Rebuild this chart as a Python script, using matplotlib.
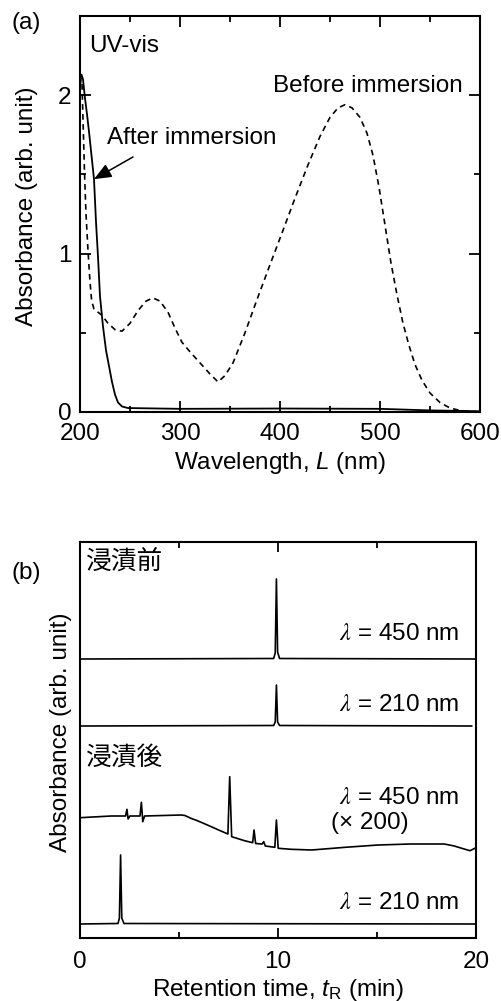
import matplotlib
matplotlib.use("Agg")
import matplotlib.pyplot as plt
from matplotlib.ticker import MultipleLocator

# ── Fonts ──
plt.rcParams['font.family'] = ['Liberation Sans', 'Noto Sans CJK JP']
plt.rcParams['font.size'] = 17.5
plt.rcParams['mathtext.fontset'] = 'custom'
plt.rcParams['mathtext.rm'] = 'Liberation Sans'
plt.rcParams['mathtext.it'] = 'Liberation Sans:italic'

# ── (a) UV-vis spectra ──
wl_before = [202, 203, 204.5, 206, 208, 210, 211.7, 214, 218, 222, 228, 235, 242,
             250, 258, 266, 273, 280, 288, 295, 302, 310, 320, 330, 338, 345, 353,
             365, 377, 390, 402, 415, 428, 440, 450, 458, 465, 472, 480, 487, 493,
             499, 505, 511, 517, 523, 529, 535, 542, 550, 560, 570, 580, 590, 600]
abs_before = [2.07, 1.85, 1.51, 1.25, 1.02, 0.82, 0.70, 0.65, 0.63, 0.61, 0.56, 0.52, 0.51,
              0.56, 0.64, 0.70, 0.72, 0.70, 0.63, 0.53, 0.44, 0.38, 0.31, 0.24, 0.19, 0.23, 0.31,
              0.50, 0.71, 0.93, 1.13, 1.35, 1.56, 1.74, 1.86, 1.92, 1.94, 1.92, 1.86, 1.76, 1.62,
              1.42, 1.18, 0.94, 0.74, 0.56, 0.42, 0.30, 0.20, 0.12, 0.06, 0.025, 0.01, 0.003, 0.0]

wl_after = [200, 201.5, 203, 205, 207, 209, 211.5, 214, 216, 218, 220, 223, 226, 229,
            232, 235, 238, 242, 248, 300, 400, 500, 550, 600]
abs_after = [2.05, 2.13, 2.10, 1.98, 1.88, 1.77, 1.62, 1.47, 1.20, 0.98, 0.73, 0.54, 0.39, 0.29,
             0.19, 0.11, 0.06, 0.035, 0.025, 0.02, 0.022, 0.02, 0.01, 0.005]

# ── (b) chromatograms, each relative to its own baseline ──
t_before_450 = [0, 9.78, 9.86, 9.92, 9.98, 10.08, 20]
a_before_450 = [0, 0.5, 6, 80, 7, 0.5, 0]

t_before_210 = [0, 9.78, 9.86, 9.92, 9.98, 10.08, 19.78]
a_before_210 = [0, 0.5, 4, 41, 4, 0.5, 0]

t_after_450 = [0, 1.58, 2.30, 2.37, 2.43, 2.52, 3.03, 3.10, 3.17, 3.26, 5.12, 5.3, 5.6,
               5.9, 6.2, 6.63, 7.0, 7.47, 7.56, 7.66, 8.31, 8.72, 8.79, 8.87, 9.20, 9.28,
               9.36, 9.84, 9.92, 10.01, 10.67, 11.7, 13.4, 15.05, 16.7, 18.4, 18.9, 19.4,
               19.7, 20.0]
a_after_450 = [0.3, 2, 2, 8.7, -1, 2, 2, 15.7, -3.7, 2, 3, 2.5, -0.3,
               -2.5, -5, -8.7, -12, -16, 41.3, -18.7, -22.7, -24.7, -12, -25.5, -26, -23.7,
               -28, -29.3, -2, -30.3, -31.3, -32, -29.3, -27, -26, -26, -28, -31,
               -32.7, -29.7]

t_after_210 = [0, 1.92, 1.99, 2.05, 2.11, 2.22, 20]
a_after_210 = [0, 0.5, 6, 69, 6, 0.5, 0]

traces = [(t_before_450, a_before_450), (t_before_210, a_before_210),
          (t_after_450, a_after_450), (t_after_210, a_after_210)]
offsets = [279, 212, 120, 14]
trace_labels = [r'$\lambda$ = 450 nm', r'$\lambda$ = 210 nm',
                r'$\lambda$ = 450 nm', r'$\lambda$ = 210 nm']

fig = plt.figure(figsize=(5.02, 10.01), dpi=100)

# ── Panel (a) ──
ax1 = fig.add_axes([80 / 502, 1 - 412 / 1001, 400 / 502, 396 / 1001])
ax1.plot(wl_before, abs_before, color='black', lw=1.2, dashes=(3.4, 2.6))
ax1.plot(wl_after, abs_after, color='black', lw=1.3)
ax1.set_xlim(200, 600)
ax1.set_ylim(0, 2.5)
ax1.xaxis.set_major_locator(MultipleLocator(100))
ax1.xaxis.set_minor_locator(MultipleLocator(50))
ax1.yaxis.set_major_locator(MultipleLocator(1))
ax1.yaxis.set_minor_locator(MultipleLocator(0.5))
ax1.tick_params(which='both', direction='in', top=True, right=True, width=1.3)
ax1.tick_params(which='major', length=8)
ax1.tick_params(which='minor', length=4)
ax1.tick_params(axis='x', pad=8)
ax1.tick_params(axis='y', pad=6)
for s in ax1.spines.values():
    s.set_linewidth(1.5)
ax1.set_xlabel('Wavelength, $L$ (nm)', va='center')
ax1.xaxis.set_label_coords(0.5, -0.129)
ax1.set_ylabel('Absorbance (arb. unit)', va='center')
ax1.yaxis.set_label_coords(-0.132, 0.52)

ax1.text(209, 2.31, 'UV-vis', ha='left', va='center')
ax1.text(583, 2.06, 'Before immersion', ha='right', va='center')
ax1.text(227, 1.73, 'After immersion', ha='left', va='center')
ax1.annotate('', xy=(214, 1.47), xytext=(253, 1.61),
             arrowprops=dict(arrowstyle='-|>,head_length=0.6,head_width=0.25',
                             color='black', lw=1.1, shrinkA=0, shrinkB=0))

# ── Panel (b) ──
ax2 = fig.add_axes([80 / 502, 1 - 938 / 1001, 396 / 502, 396 / 1001])
for (t, a), off in zip(traces, offsets):
    ax2.plot(t, [v + off for v in a], color='black', lw=1.2)
ax2.set_xlim(0, 20)
ax2.set_ylim(0, 396)
ax2.set_yticks([])
ax2.xaxis.set_major_locator(MultipleLocator(10))
ax2.xaxis.set_minor_locator(MultipleLocator(5))
ax2.tick_params(which='both', direction='in', top=True, width=1.3)
ax2.tick_params(which='major', length=7)
ax2.tick_params(which='minor', length=4)
ax2.tick_params(axis='x', pad=9.5)
for s in ax2.spines.values():
    s.set_linewidth(1.5)
ax2.set_xlabel('Retention time, $t_{\\mathrm{R}}$ (min)', va='center')
ax2.xaxis.set_label_coords(0.5, -0.131)
ax2.set_ylabel('Absorbance (arb. unit)', va='center')
ax2.yaxis.set_label_coords(-0.048, 0.52)

label_y = [304, 233, 140, 35]
for lab, y in zip(trace_labels, label_y):
    ax2.text(19.14, y, lab, ha='right', va='center', math_fontfamily='stix')
ax2.text(12.7, 115, '(× 200)', ha='left', va='center')
ax2.text(0.3, 376, '浸漬前', ha='left', va='center', fontsize=18.5)
ax2.text(0.3, 180, '浸漬後', ha='left', va='center', fontsize=18.5)

fig.text(12 / 502, 1 - 23 / 1001, '(a)', ha='left', va='center')
fig.text(12 / 502, 1 - 573 / 1001, '(b)', ha='left', va='center')

fig.savefig('out.png', dpi=100)
